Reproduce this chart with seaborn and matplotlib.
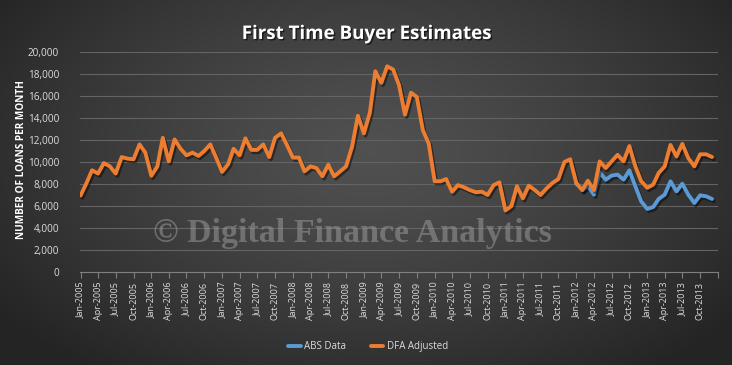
import numpy as np
import pandas as pd
import matplotlib
matplotlib.use("Agg")
import matplotlib.pyplot as plt
import matplotlib.patheffects as pe
from matplotlib.lines import Line2D
import seaborn as sns

# ---------------- data ----------------
title = "First Time Buyer Estimates"
y_label = "NUMBER OF LOANS PER MONTH"
watermark = "\u00a9 Digital Finance Analytics"
series_names = ["ABS Data", "DFA Adjusted"]
series_colors = ["#5B9BD5", "#ED7D31"]

dfa_start = "2005-01-01"
dfa_adjusted = [
    # 2005
    6950, 8100, 9250, 8950, 9900, 9600, 8950, 10450, 10300, 10250, 11600, 10850,
    # 2006
    8750, 9600, 12200, 10050, 12050, 11200, 10600, 10850, 10550, 11000, 11600, 10400,
    # 2007
    9100, 9800, 11200, 10600, 12150, 11100, 11100, 11600, 10450, 12200, 12600, 11550,
    # 2008
    10400, 10400, 9150, 9600, 9450, 8700, 9750, 8700, 9150, 9600, 11400, 14200,
    # 2009
    12600, 14500, 18250, 17200, 18700, 18400, 17000, 14300, 16300, 15900, 12900, 11700,
    # 2010
    8250, 8250, 8450, 7300, 7900, 7700, 7450, 7250, 7300, 7000, 7900, 8150,
    # 2011
    5600, 6000, 7800, 6700, 7850, 7450, 7000, 7600, 8100, 8450, 10000, 10250,
    # 2012
    8100, 7450, 8300, 7450, 10050, 9450, 10050, 10650, 10050, 11450, 9600, 8250,
    # 2013
    7650, 7950, 9000, 9600, 11550, 10500, 11650, 10350, 9600, 10700, 10700, 10450,
]

abs_start = "2012-01-01"
abs_data = [
    # 2012
    8030, 7420, 7850, 7030, 9060, 8390, 8760, 8850, 8390, 9240, 7790, 6420,
    # 2013
    5730, 5910, 6640, 7030, 8240, 7330, 8030, 7030, 6270, 6970, 6880, 6640,
]

y_ticks = [0, 2000, 4000, 6000, 8000, 10000, 12000, 14000, 16000, 18000, 20000]
x_start, x_end = "2005-01-01", "2014-01-01"

# ---------------- frame ----------------
dfa_months = pd.date_range(dfa_start, periods=len(dfa_adjusted), freq="MS")
abs_months = pd.date_range(abs_start, periods=len(abs_data), freq="MS")
df = pd.concat([
    pd.DataFrame({"month": abs_months, "loans": abs_data, "series": series_names[0]}),
    pd.DataFrame({"month": dfa_months, "loans": dfa_adjusted, "series": series_names[1]}),
], ignore_index=True)

sns.set_theme(style="dark")
plt.rcParams["font.family"] = ["Open Sans", "DejaVu Sans"]

W, H = 732, 365
fig = plt.figure(figsize=(W / 100, H / 100), dpi=100)

# background radial gradient
bg = fig.add_axes([0, 0, 1, 1], zorder=0)
yy, xx = np.mgrid[0:H, 0:W]
r = np.sqrt(((xx - 370) / (W * 0.62)) ** 2 + ((yy - 150) / (H * 0.75)) ** 2)
r = np.clip(r, 0, 1)
v = 0.315 - (0.315 - 0.145) * r ** 1.3
bg.imshow(np.dstack([v, v, v]), aspect="auto", extent=[0, 1, 0, 1], origin="upper")
bg.set_axis_off()

ax = fig.add_axes([80 / W, 1 - 272 / H, (718 - 80) / W, (272 - 52) / H], zorder=1)
ax.set_facecolor("none")

sns.lineplot(data=df, x="month", y="loans", hue="series", hue_order=series_names,
             palette=dict(zip(series_names, series_colors)), linewidth=2.8,
             legend=False, ax=ax, estimator=None)
for ln in ax.lines:
    ln.set_solid_joinstyle("round")
    ln.set_solid_capstyle("round")
    ln.set_path_effects([pe.SimpleLineShadow(offset=(1.2, -1.6), shadow_color="black", alpha=0.45),
                         pe.Normal()])

ax.set_ylim(0, 20000)
ax.set_yticks(y_ticks)
ax.set_yticklabels([f"{t:,}" for t in y_ticks])
ax.set_xlim(pd.Timestamp(x_start) - pd.Timedelta(days=3), pd.Timestamp(x_end))

tick_dates = pd.date_range(x_start, x_end, freq="QS")
ax.set_xticks(tick_dates)
ax.set_xticklabels([d.strftime("%b-%Y") for d in tick_dates[:-1]] + [""])

ax.set_xlabel("")
ax.set_ylabel("")
ax.yaxis.grid(True, color="#646464", linewidth=0.8)
ax.xaxis.grid(False)
for s in ["top", "right", "left"]:
    ax.spines[s].set_visible(False)
ax.spines["bottom"].set_color("#808080")
ax.spines["bottom"].set_linewidth(0.8)
ax.tick_params(axis="x", which="major", bottom=True, direction="out", length=4, width=0.8,
               color="#808080", labelcolor="#dcdcdc", labelsize=6.5, rotation=90, pad=3)
ax.tick_params(axis="y", left=False, labelcolor="#dcdcdc", labelsize=7.2, pad=9)

fig.text(0.501, 0.907, title, ha="center", va="center", color="white", fontsize=13.5,
         fontweight="bold", family=["Open Sans", "DejaVu Sans"],
         path_effects=[pe.withSimplePatchShadow(offset=(1, -1), shadow_rgbFace="black", alpha=0.6)])
fig.text(0.029, 0.562, y_label, ha="center", va="center", rotation=90, color="white",
         fontsize=7.2, fontweight="bold")

fig.text(352 / W, 1 - 233 / H, watermark, ha="center", va="center", fontsize=24.5,
         fontweight="bold", family=["Liberation Serif", "DejaVu Serif"], color="#a0a0a0",
         alpha=0.5, zorder=5)

handles = [Line2D([0], [0], color=c, linewidth=2.8) for c in series_colors]
leg = fig.legend(handles, series_names, loc="center", bbox_to_anchor=(0.503, 0.05), ncol=2,
                 frameon=False, fontsize=7, handlelength=1.3, columnspacing=2.5,
                 handletextpad=0.4)
for t in leg.get_texts():
    t.set_color("#dcdcdc")

fig.savefig("out.png", dpi=100)
